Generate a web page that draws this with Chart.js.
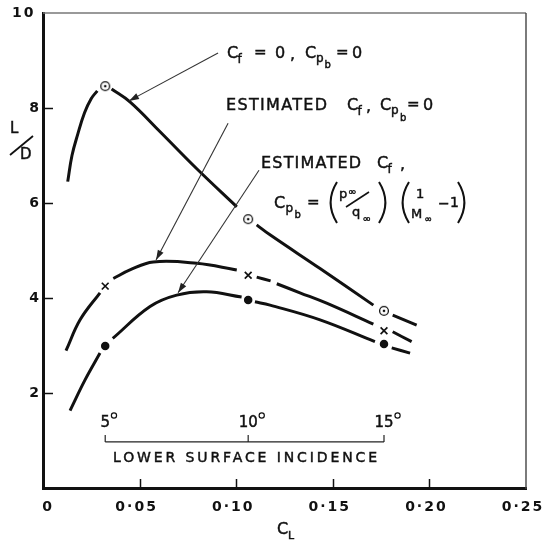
<!DOCTYPE html>
<html>
<head>
<meta charset="utf-8">
<script src="https://cdn.jsdelivr.net/npm/chart.js@4.4.1/dist/chart.umd.min.js"></script>
<style>
  html, body { margin: 0; padding: 0; background: #fff; }
  #wrap { width: 544px; height: 541px; }
</style>
</head>
<body>
<div id="wrap"><canvas id="c" width="544" height="541"></canvas></div>
<script>
// Axis ticks
const xTickValues = [0, 0.05, 0.10, 0.15, 0.20, 0.25];
const xTickLabels = ['\u20030', '0·05', '0·10', '0·15', '0·20', '0·25'];
const yTickLabels = ['', '2', '4', '6', '8', '10\u2005'];

// Lower surface incidence: lift coefficient at 5°, 10°, 15°
const incidenceCL = [0.0322, 0.1062, 0.1765];
const incidenceLabels = ['5', '10', '15'];

// Cf = 0, Cpb = 0   (null = break in the line around a symbol)
const cfZeroCL = [0.0128, 0.0150, 0.0180, 0.0215, 0.0250, 0.0281, 0.0320, 0.0355, 0.0450, 0.0606, 0.0796, 0.1003, 0.1060, 0.1106, 0.1175, 0.1434, 0.1710, 0.1760, 0.1810, 0.1934];
const cfZeroLD = [6.45, 7.00, 7.45, 7.90, 8.20, 8.36, null, 8.40, 8.13, 7.50, 6.72, 5.92, null, 5.54, 5.33, 4.62, 3.85, null, 3.64, 3.43];
const cfZeroMarkLD = [8.46, 5.66, 3.73];

// Estimated Cf, Cpb = 0
const estCfCL = [0.0119, 0.0192, 0.0295, 0.0330, 0.0364, 0.0450, 0.0571, 0.0796, 0.1003, 0.1063, 0.1106, 0.1178, 0.1194, 0.1210, 0.1330, 0.1468, 0.1710, 0.1767, 0.1810, 0.1908];
const estCfLD = [2.89, 3.54, 4.11, null, 4.41, 4.59, 4.76, 4.73, 4.59, null, 4.44, 4.36, null, 4.30, 4.11, 3.89, 3.45, null, 3.29, 3.08];
const estCfMarkLD = [4.25, 4.48, 3.31];

// Estimated Cf, Cpb = (p/q)(1/M - 1)
const estCfCpbCL = [0.0140, 0.0217, 0.0295, 0.0320, 0.0361, 0.0554, 0.0692, 0.0847, 0.1028, 0.1063, 0.1097, 0.1175, 0.1434, 0.1718, 0.1765, 0.1805, 0.1900];
const estCfCpbLD = [1.63, 2.27, 2.84, null, 3.15, 3.82, 4.06, 4.13, 4.02, null, 3.92, 3.85, 3.54, 3.08, null, 2.95, 2.84];
const estCfCpbMarkLD = [2.99, 3.96, 3.03];

const INK = '#111';
const FONT = '"DejaVu Sans", sans-serif';

// circle-with-dot symbol
const circleDot = (() => {
  const c = document.createElement('canvas');
  c.width = 12; c.height = 12;
  const g = c.getContext('2d');
  g.strokeStyle = INK; g.lineWidth = 1.3;
  g.beginPath(); g.arc(6, 6, 4.4, 0, Math.PI * 2); g.stroke();
  g.fillStyle = INK;
  g.beginPath(); g.arc(6, 6, 1.3, 0, Math.PI * 2); g.fill();
  return c;
})();

function curve(cl, ld) {
  return {
    data: cl.map((x, i) => ({ x, y: ld[i] })),
    borderColor: INK, borderWidth: 3, borderCapStyle: 'butt',
    pointRadius: 0, fill: false, spanGaps: false,
    tension: 0.4
  };
}
function marks(ld, style, radius, filled) {
  return {
    data: incidenceCL.map((x, i) => ({ x, y: ld[i] })),
    showLine: false, pointStyle: style, pointRadius: radius,
    borderColor: INK, borderWidth: 1.7,
    backgroundColor: filled ? INK : 'rgba(0,0,0,0)'
  };
}

// text helpers
function txt(ctx, s, x, cy, size, opts = {}) {
  ctx.font = `${opts.weight || 'normal'} ${size}px ${FONT}`;
  ctx.textAlign = opts.align || 'left';
  ctx.textBaseline = 'alphabetic';
  ctx.letterSpacing = (opts.ls || 0) + 'px';
  const by = cy + size * 0.36;
  ctx.fillText(s, x, by);
  ctx.lineWidth = 0.45;
  ctx.strokeText(s, x, by);
  ctx.letterSpacing = '0px';
}
function fitTxt(ctx, s, x, cy, size, width) {
  ctx.font = `normal ${size}px ${FONT}`;
  ctx.letterSpacing = '0px';
  const w = ctx.measureText(s).width;
  const ls = (width - w) / (s.length - 1);
  txt(ctx, s, x, cy, size, { ls });
}
function paren(ctx, x0, x1, top, bot, open) {
  ctx.lineWidth = 2;
  ctx.beginPath();
  if (open) {
    ctx.moveTo(x1, top);
    ctx.quadraticCurveTo(x0 - (x1 - x0) * 0.6, (top + bot) / 2, x1, bot);
  } else {
    ctx.moveTo(x0, top);
    ctx.quadraticCurveTo(x1 + (x1 - x0) * 0.6, (top + bot) / 2, x0, bot);
  }
  ctx.stroke();
}
function arrow(ctx, x0, y0, x1, y1) {
  ctx.strokeStyle = '#333'; ctx.fillStyle = '#222'; ctx.lineWidth = 1.1;
  ctx.beginPath(); ctx.moveTo(x0, y0); ctx.lineTo(x1, y1); ctx.stroke();
  const a = Math.atan2(y1 - y0, x1 - x0), L = 10, W = 3.2;
  ctx.beginPath();
  ctx.moveTo(x1, y1);
  ctx.lineTo(x1 - L * Math.cos(a) + W * Math.sin(a), y1 - L * Math.sin(a) - W * Math.cos(a));
  ctx.lineTo(x1 - L * Math.cos(a) - W * Math.sin(a), y1 - L * Math.sin(a) + W * Math.cos(a));
  ctx.closePath(); ctx.fill();
}

const decor = {
  id: 'decor',
  beforeDraw(chart) {
    chart.ctx.letterSpacing = '2px';
  },
  beforeDatasetsDraw(chart) {
    chart.ctx.letterSpacing = '0px';
  },
  afterDatasetsDraw(chart) {
    const { ctx, chartArea: a, scales: { x, y } } = chart;
    ctx.save();
    ctx.fillStyle = INK; ctx.strokeStyle = INK;

    // frame: light top and right edges
    ctx.lineWidth = 1.4; ctx.strokeStyle = '#777';
    ctx.beginPath(); ctx.moveTo(a.left, a.top); ctx.lineTo(a.right, a.top); ctx.stroke();
    ctx.strokeStyle = '#444';
    ctx.beginPath(); ctx.moveTo(a.right, a.top); ctx.lineTo(a.right, a.bottom + 1); ctx.stroke();

    // inward tick marks
    ctx.strokeStyle = INK; ctx.lineWidth = 1.5;
    [2, 4, 6, 8].forEach(v => {
      const py = Math.round(y.getPixelForValue(v)) + 0.5;
      ctx.beginPath(); ctx.moveTo(a.left, py); ctx.lineTo(a.left + 10, py); ctx.stroke();
    });
    [0.05, 0.10, 0.15, 0.20].forEach(v => {
      const px = Math.round(x.getPixelForValue(v)) + 0.5;
      ctx.beginPath(); ctx.moveTo(px, a.bottom); ctx.lineTo(px, a.bottom - 9); ctx.stroke();
    });

    // axis titles
    txt(ctx, 'C', 277, 528, 16);
    txt(ctx, 'L', 288, 535, 11);
    txt(ctx, 'L', 10, 128, 15);
    ctx.lineWidth = 1.8;
    ctx.beginPath(); ctx.moveTo(10, 155); ctx.lineTo(33, 136); ctx.stroke();
    txt(ctx, 'D', 20, 154, 15);

    // lower surface incidence scale
    const by = y.getPixelForValue(0.97);
    const px = incidenceCL.map(v => x.getPixelForValue(v));
    ctx.lineWidth = 1.2; ctx.strokeStyle = '#222';
    ctx.beginPath(); ctx.moveTo(px[0], by); ctx.lineTo(px[2], by); ctx.stroke();
    px.forEach(p => { ctx.beginPath(); ctx.moveTo(p, by); ctx.lineTo(p, by - 7); ctx.stroke(); });
    ctx.strokeStyle = INK;
    incidenceLabels.forEach((s, i) => {
      txt(ctx, s, px[i], 422, 15, { align: 'center' });
      ctx.font = `normal 15px ${FONT}`;
      const w = ctx.measureText(s).width;
      ctx.lineWidth = 1.2;
      ctx.beginPath(); ctx.arc(px[i] + w / 2 + 4, 415.5, 2.6, 0, Math.PI * 2); ctx.stroke();
    });
    fitTxt(ctx, 'LOWER SURFACE INCIDENCE', 113, 457, 14, 264);

    // leader arrows
    arrow(ctx, x.getPixelForValue(0.0906), y.getPixelForValue(9.16), x.getPixelForValue(0.0445), y.getPixelForValue(8.15));
    arrow(ctx, x.getPixelForValue(0.0958), y.getPixelForValue(7.68), x.getPixelForValue(0.0585), y.getPixelForValue(4.80));
    arrow(ctx, x.getPixelForValue(0.1118), y.getPixelForValue(6.69), x.getPixelForValue(0.0699), y.getPixelForValue(4.11));
    ctx.fillStyle = INK; ctx.strokeStyle = INK;

    // label: Cf = 0, Cpb = 0
    txt(ctx, 'C', 227, 52, 16);
    txt(ctx, 'f', 237.5, 59, 12);
    txt(ctx, '=', 254, 52, 15);
    txt(ctx, '0', 275, 52, 16);
    txt(ctx, ',', 290, 53, 16);
    txt(ctx, 'C', 305, 52, 16);
    txt(ctx, 'p', 316, 58, 12);
    txt(ctx, 'b', 324.5, 64, 10);
    txt(ctx, '=', 336, 52, 15);
    txt(ctx, '0', 352, 52, 16);

    // label: ESTIMATED Cf, Cpb = 0
    fitTxt(ctx, 'ESTIMATED', 226, 104, 16, 101);
    txt(ctx, 'C', 347, 104, 16);
    txt(ctx, 'f', 357.5, 111, 12);
    txt(ctx, ',', 366, 105, 16);
    txt(ctx, 'C', 380, 104, 16);
    txt(ctx, 'p', 391, 110, 12);
    txt(ctx, 'b', 400, 117, 10);
    txt(ctx, '=', 407, 104, 15);
    txt(ctx, '0', 423, 104, 16);

    // label: ESTIMATED Cf, Cpb = (p/q)(1/M - 1)
    fitTxt(ctx, 'ESTIMATED', 261, 162, 16, 100);
    txt(ctx, 'C', 377, 162, 16);
    txt(ctx, 'f', 387.5, 169, 12);
    txt(ctx, ',', 400, 163, 16);

    txt(ctx, 'C', 274, 202, 16);
    txt(ctx, 'p', 285.5, 208, 12);
    txt(ctx, 'b', 294.5, 214, 10);
    txt(ctx, '=', 307, 202, 15);
    paren(ctx, 329, 337, 182, 223, true);
    txt(ctx, 'p', 339, 193, 13);
    txt(ctx, '∞', 348, 191, 10);
    ctx.lineWidth = 1.6;
    ctx.beginPath(); ctx.moveTo(346, 207); ctx.lineTo(369, 192); ctx.stroke();
    txt(ctx, 'q', 352, 211, 13);
    txt(ctx, '∞', 362.5, 218, 10);
    paren(ctx, 379, 387, 182, 223, false);
    paren(ctx, 401, 409, 182, 223, true);
    txt(ctx, '1', 416, 193, 13);
    txt(ctx, 'M', 411, 213, 13);
    txt(ctx, '∞', 424.5, 219, 9);
    txt(ctx, '−', 438, 203, 14);
    txt(ctx, '1', 450, 202, 14);
    paren(ctx, 458, 466, 182, 223, false);

    ctx.restore();
  }
};

new Chart(document.getElementById('c'), {
  type: 'line',
  data: {
    datasets: [
      curve(cfZeroCL, cfZeroLD),
      curve(estCfCL, estCfLD),
      curve(estCfCpbCL, estCfCpbLD),
      marks(cfZeroMarkLD, circleDot, 5, false),
      marks(estCfMarkLD, 'crossRot', 4.8, false),
      marks(estCfCpbMarkLD, 'circle', 3.4, true)
    ]
  },
  options: {
    responsive: false,
    animation: false,
    devicePixelRatio: 1,
    layout: { padding: { top: 13, right: 18, left: 0, bottom: 0 } },
    plugins: { legend: { display: false }, tooltip: { enabled: false } },
    scales: {
      x: {
        type: 'linear', min: 0, max: 0.25,
        afterBuildTicks: s => { s.ticks = xTickValues.map(v => ({ value: v })); },
        ticks: {
          callback: (v, i) => xTickLabels[i],
          font: { family: FONT, size: 14, weight: 'bold' },
          color: INK, padding: 11, labelOffset: -3,
          maxRotation: 0, autoSkip: false
        },
        grid: { display: false, drawTicks: false },
        border: { display: true, width: 3, color: INK },
        afterFit: s => { s.height = 53; s.paddingLeft = 0; s.paddingRight = 0; }
      },
      y: {
        type: 'linear', min: 0, max: 10,
        ticks: {
          stepSize: 2,
          callback: v => yTickLabels[Math.round(v / 2)],
          font: { family: FONT, size: 14, weight: 'bold' },
          color: INK, padding: 2
        },
        grid: { display: false, drawTicks: false },
        border: { display: true, width: 3, color: INK },
        afterFit: s => { s.width = 43; s.paddingTop = 0; s.paddingBottom = 0; }
      }
    }
  },
  plugins: [decor]
});
</script>
</body>
</html>
